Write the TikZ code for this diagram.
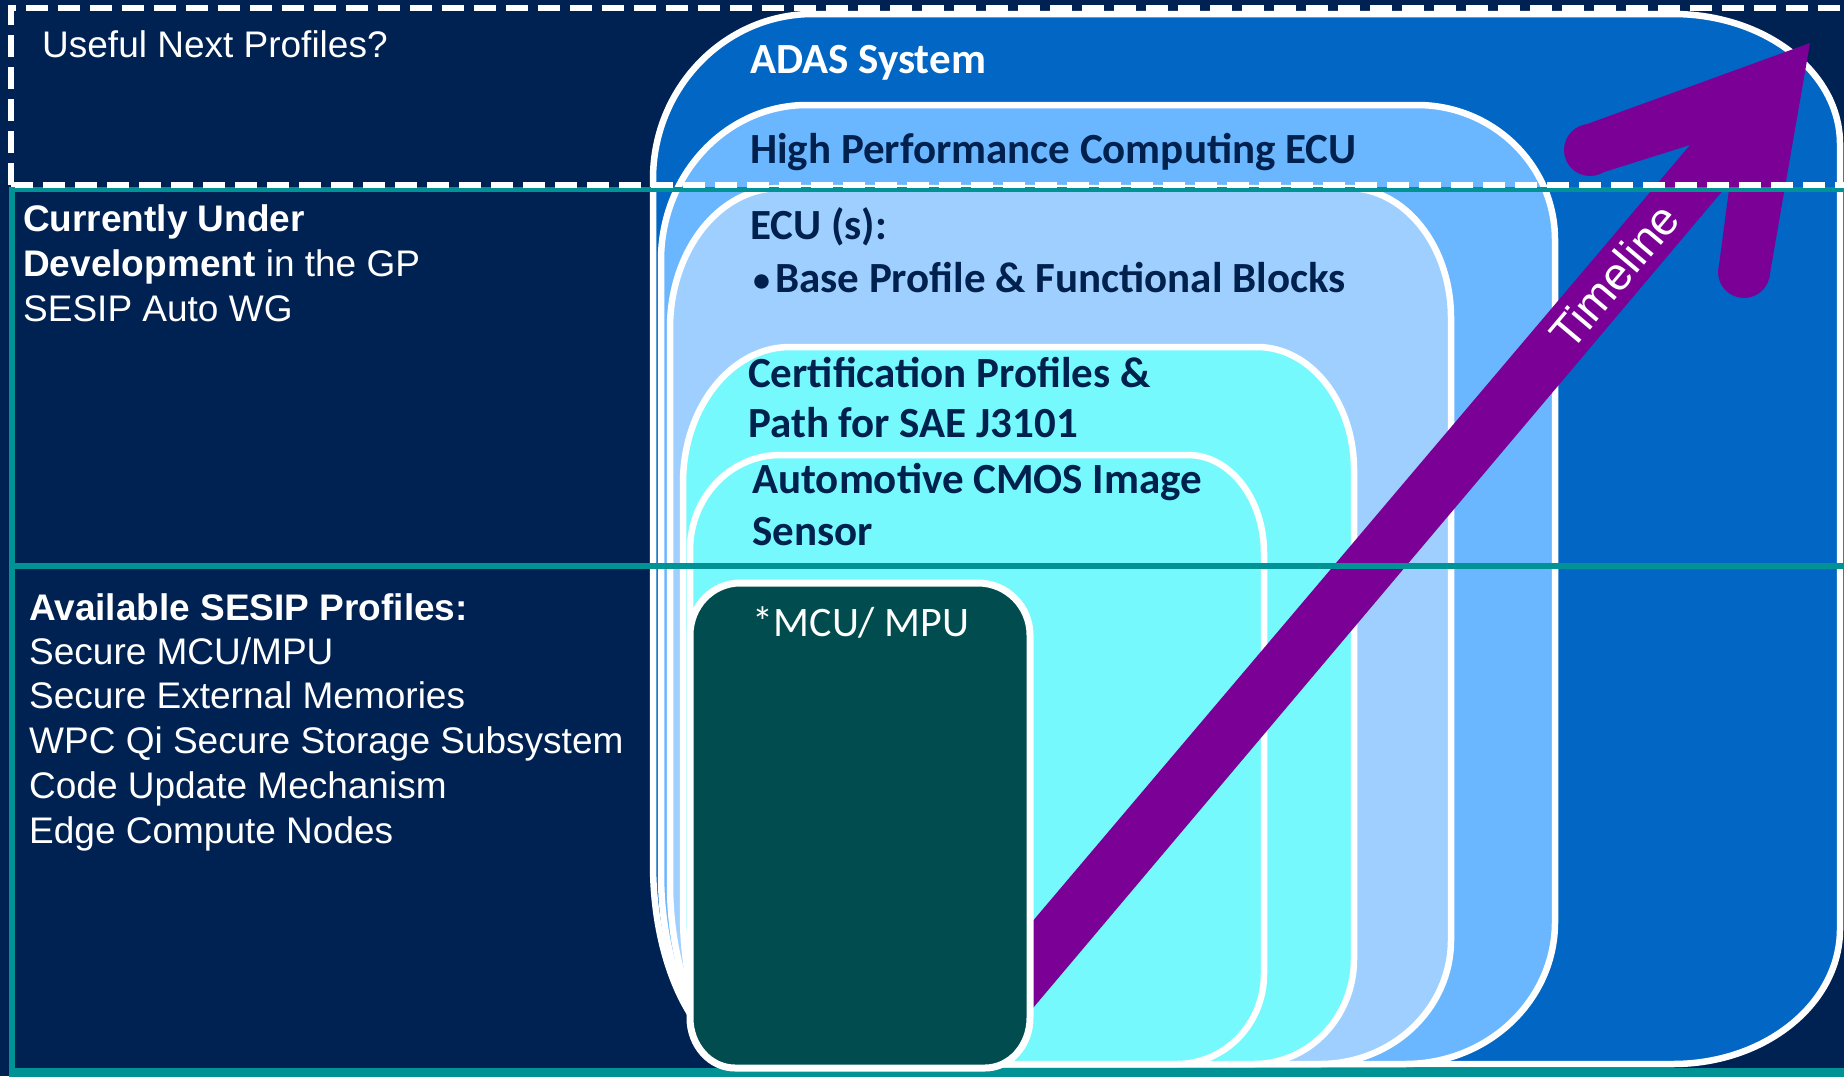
\documentclass[tikz,border=0pt]{standalone}
\usepackage{fontspec}
\setmainfont{Liberation Sans}
\newfontfamily\calib{Carlito}
\definecolor{navybg}{RGB}{0,34,82}
\definecolor{adas}{RGB}{2,102,196}
\definecolor{hpc}{RGB}{107,183,255}
\definecolor{ecu}{RGB}{158,207,255}
\definecolor{cyanbox}{RGB}{117,249,253}
\definecolor{mcu}{RGB}{0,76,78}
\definecolor{purp}{RGB}{123,0,150}
\definecolor{tealln}{RGB}{0,146,148}
\definecolor{txtnavy}{RGB}{0,32,78}
\newcommand\setradii[8]{\def\rtlx{#1}\def\rtly{#2}\def\rtrx{#3}\def\rtry{#4}\def\rbrx{#5}\def\rbry{#6}\def\rblx{#7}\def\rbly{#8}}
\newcommand\tombpath[5]{%
 \path[#1] (#2,{#3+\rtly}) .. controls (#2,{#3+0.4477*\rtly}) and ({#2+0.4477*\rtlx},#3) .. ({#2+\rtlx},#3)
 -- ({#4-\rtrx},#3) .. controls ({#4-0.4477*\rtrx},#3) and (#4,{#3+0.4477*\rtry}) .. (#4,{#3+\rtry})
 -- (#4,{#5-\rbry}) .. controls (#4,{#5-0.4477*\rbry}) and ({#4-0.4477*\rbrx},#5) .. ({#4-\rbrx},#5)
 -- ({#2+\rblx},#5) .. controls ({#2+0.4477*\rblx},#5) and (#2,{#5-0.4477*\rbly}) .. (#2,{#5-\rbly}) -- cycle;}
\begin{document}
\begin{tikzpicture}[x=1pt,y=-1pt,
  shapebox/.style={draw=white,line width=6.5pt},
  lefttxt/.style={anchor=base west,inner sep=0pt,text=white,font=\fontsize{37}{44}\selectfont},
  boxtxt/.style={anchor=base west,inner sep=0pt,text=txtnavy,font=\calib\bfseries\fontsize{43}{50}\selectfont},
  whitedash/.style={white,line width=6pt,dash pattern=on 22pt off 10pt},
  tealline/.style={tealln,line width=6pt}]
\useasboundingbox (0,0) rectangle (1844,1076);
\fill[navybg] (0,0) rectangle (1844,1076);
% top dashed frame
\draw[whitedash] (11,185) -- (11,8) -- (1850,8);
% nested shapes
\setradii{160}{165}{167}{130}{167}{135}{110}{200}
\tombpath{shapebox,fill=adas}{653}{14}{1840}{1064}
\setradii{146}{155}{138}{135}{150}{142}{100}{190}
\tombpath{shapebox,fill=hpc}{661}{105}{1555}{1064}
\setradii{110}{140}{103}{130}{131}{124}{90}{180}
\tombpath{shapebox,fill=ecu}{670}{188}{1451}{1064}
\setradii{107}{136}{97}{123}{100}{105}{60}{150}
\tombpath{shapebox,fill=cyanbox}{683}{347}{1354}{1064}
\setradii{90}{95}{76}{98}{87}{90}{50}{100}
\tombpath{shapebox,fill=cyanbox}{690}{455}{1264}{1064}
% timeline arrow
\fill[purp] (1810,43) -- (1579,127) -- (1601,173) -- (1690,145) -- (932,1040) -- (1006,1040) -- (1730,182) -- (1719,265) -- (1769,279) -- cycle;
\fill[purp] (1590,150) circle[radius=26];
\fill[purp] (1744,272) circle[radius=26];
\node[rotate=49.8,text=white,font=\fontsize{46}{50}\selectfont,inner sep=0pt] (timeline) at (1614,276) {Timeline};
% teal lines and middle dashed line
\draw[tealline,line width=5pt] (9,189) -- (1844,189);
\draw[whitedash] (11,185) -- (1850,185);
\draw[tealline] (12,187) -- (12,1076);
\draw[tealline] (9,566) -- (1844,566);
\draw[tealline,line width=9pt] (9,1072) -- (1844,1072);
% MCU box
\setradii{50}{52}{52}{52}{45}{50}{45}{50}
\tombpath{shapebox,line width=7pt,fill=mcu}{690}{583}{1030}{1068}
\node[anchor=base,inner sep=0pt,text=white,font=\calib\fontsize{42}{48}\selectfont] (mcutxt) at (861,636) {*MCU/ MPU};
% box labels
\node[boxtxt,text=white] (adastxt) at (750,73) {ADAS System};
\node[boxtxt] (hpctxt) at (750,163) {High Performance Computing ECU};
\node[boxtxt] (ecutxt) at (750,239) {ECU (s):};
\node[boxtxt] (basetxt) at (753,292) {\makebox[22pt][l]{\raisebox{1pt}{\fontsize{34}{34}\selectfont •}}Base Profile \& Functional Blocks};
\node[boxtxt] (certa) at (748,387) {Certification Profiles \&};
\node[boxtxt] (certb) at (748,437) {Path for SAE J3101};
\node[boxtxt] (cmosa) at (752,493) {Automotive CMOS Image};
\node[boxtxt] (cmosb) at (752,545) {Sensor};
% left texts
\node[lefttxt] (useful) at (42,57) {Useful Next Profiles?};
\node[lefttxt] (cura) at (23,231) {\bfseries Currently Under};
\node[lefttxt] (curb) at (23,276) {{\bfseries Development} in the GP};
\node[lefttxt] (curc) at (23,321) {SESIP Auto WG};
\node[lefttxt] (ava) at (29,620) {\bfseries Available SESIP Profiles:};
\node[lefttxt] (avb) at (29,664) {Secure MCU/MPU};
\node[lefttxt] (avc) at (29,708) {Secure External Memories};
\node[lefttxt] (avd) at (29,753) {WPC Qi Secure Storage Subsystem};
\node[lefttxt] (ave) at (29,798) {Code Update Mechanism};
\node[lefttxt] (avf) at (29,843) {Edge Compute Nodes};
\end{tikzpicture}
\end{document}
